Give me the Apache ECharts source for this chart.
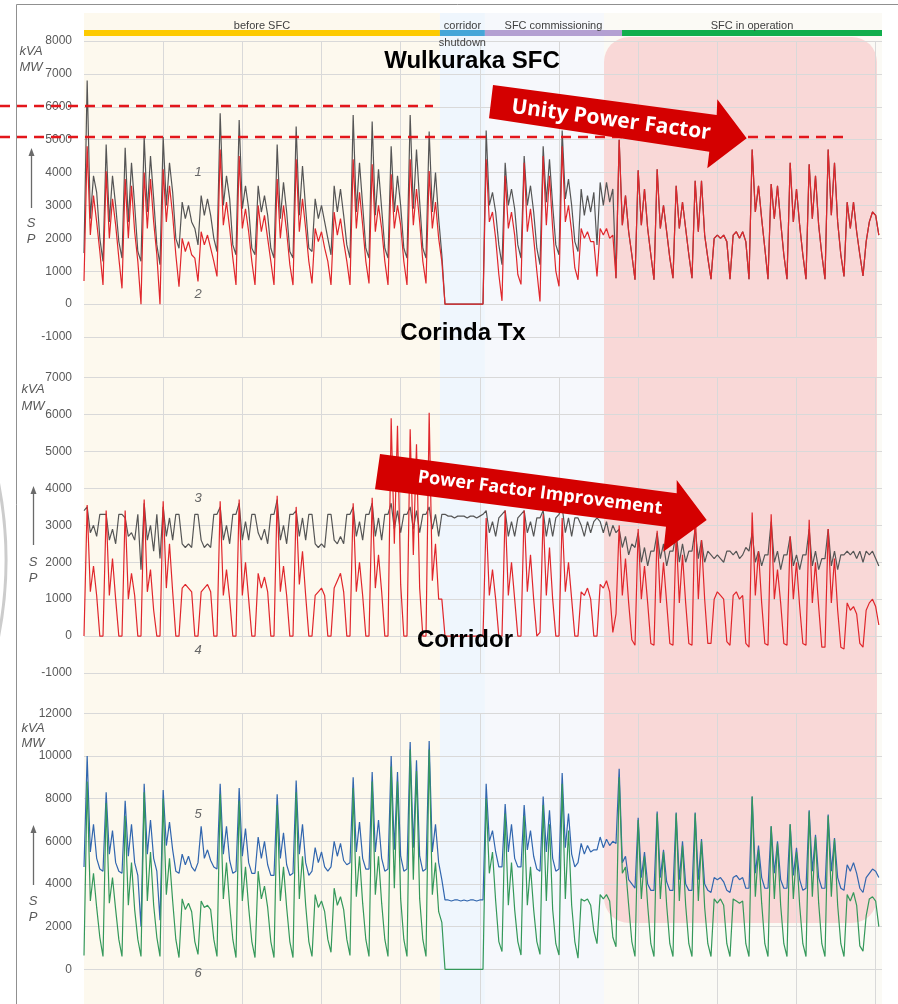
<!DOCTYPE html>
<html><head><meta charset="utf-8">
<script src="https://cdn.jsdelivr.net/npm/echarts@6/dist/echarts.min.js"></script>
<style>html,body{margin:0;padding:0;background:#fff}#c{width:898px;height:1004px}</style>
</head><body><div id="c"></div>
<script>
// ---- data: 42 daily cycles x 6 samples (index 0..251) ----
// Panel 1: Wulkuraka SFC  (S = kVA, grey ; P = MW, red)
const sfcP = [
 700,4800,2100,3300,2500,1600,  580,4040,2000,3200,2400,1400,  480,3800,2000,3600,2200,1300,
 0,4000,2300,3800,2500,1500,    0,4100,2500,3600,2700,1500,    530,2000,1600,1900,1500,1400,
 690,2200,1800,2100,1700,1300,  840,4700,2400,3100,2300,1400,  580,4500,2300,2900,2200,1300,
 580,3000,2200,2700,2000,1300,  580,3800,2000,3000,2200,1200,  580,4400,2200,3200,2300,1300,
 630,2300,1900,2200,1700,1300,  580,2800,2100,2600,1900,1300,  580,4400,2300,3400,2400,1300,
 630,4250,2200,3000,2300,1300,  580,3950,2300,3000,2400,1300,  580,4400,2400,3500,2500,1300,
 630,4050,2300,3100,2000,1300,  0,0,0,0,0,0,                   0,0,0,0,0,0,
 0,4400,2500,2800,2000,900,     100,3900,2300,2800,2100,900,   600,4300,2200,2900,2000,1000,
 80,4500,2400,3900,2300,1000,   540,4800,2500,3000,2200,1100,  740,2300,2000,2200,1900,1900,
 840,2300,2100,2300,2000,2100,  790,5000,2400,3300,2200,1500,  740,4070,2400,3500,2300,1500,
 740,4100,2300,3000,2200,1400,  790,3600,2300,3100,2300,1500,  790,3750,2200,3750,2100,1400,
 760,2000,2100,2000,2100,1900,  760,2100,2200,2000,2200,1900,  760,4700,2800,3600,2600,1700,
 760,3650,2600,3600,2500,1500,  760,4300,2500,3500,2400,1500,  760,4250,2600,3900,2400,1500,
 760,4700,2700,4300,2500,1500,  840,3100,2300,3100,2200,1500,  860,1900,2500,2800,2700,2100
];
// S before unity power factor (cycles 0..27); afterwards S equals P
const sfcSBefore = [
 1550,6800,2600,3900,3400,2000, 1300,4850,2500,3900,3000,1900, 1400,4750,2500,4300,3000,1600,
 1300,5100,2800,4500,3200,1800, 1200,5080,3000,4300,3400,2000, 1700,3100,2600,3000,2500,2300,
 1800,3300,2700,3200,2700,2000, 1600,5800,3000,3900,3200,1800, 1500,5600,2900,3600,2900,1700,
 1500,3600,2800,3300,2700,1700, 1400,4850,2600,3700,2800,1600, 1400,5400,2700,4200,2900,1700,
 1600,3200,2600,3000,2500,2000, 1500,3600,2800,3500,2700,1800, 1400,5750,2800,4300,3000,1700,
 1400,5550,2700,4100,2900,1700, 1400,4800,2800,3900,3000,1700, 1400,5750,2900,4700,3100,1700,
 1400,5250,2800,4000,2600,1500, 0,0,0,0,0,0,                   0,0,0,0,0,0,
 0,5280,3000,3400,2800,1800,    1200,4300,3000,3500,2900,1800, 1400,4500,3000,3600,2800,1700,
 1200,4800,3100,4400,3000,1800, 1500,5280,3200,3800,3000,1900, 1600,3500,2700,3300,2800,3400,
 1800,3700,3000,3700,3100,3500
];
const sfcS = sfcSBefore.concat(sfcP.slice(sfcSBefore.length));

// Panel 2: Corinda Tx
const txS = [
 3400,3500,2800,3000,2700,3300, 3300,3300,2600,2900,2500,3300, 3300,3200,2700,2800,2600,3300,
 1800,3600,2600,3000,2300,3300, 2100,3500,2700,3200,2600,3300, 3300,2500,2400,2500,2400,3300,
 3300,2600,2400,2500,2400,3300, 3300,3500,2600,3000,2500,3300, 3300,3600,2600,3100,2600,3300,
 3300,2800,2600,2900,2500,3300, 3300,3700,2600,3000,2500,3300, 3300,3400,2700,3200,2600,3300,
 3300,2500,2400,2500,2400,3300, 3300,2600,2500,2700,2500,3300, 3300,3500,2700,3100,2600,3300,
 3300,3600,2700,3200,2600,3300, 3300,3600,2900,3400,2800,3300, 3300,3500,2900,3400,2800,3300,
 3300,3500,2900,3300,2700,3300, 3300,3250,3250,3200,3250,3250, 3250,3200,3250,3250,3200,3250,
 3300,3400,2800,3100,2700,3200, 3300,3400,2700,3100,2700,3200, 3300,3400,2800,3100,2700,3200,
 3200,3400,2700,3200,2700,3200, 3300,3500,2800,3200,2700,3200, 3200,3000,2700,3100,2800,3100,
 3200,3100,2800,3100,2700,3000, 2800,2900,2400,2700,2200,2500, 2400,2800,2000,2400,1900,2300,
 2300,2800,2100,2500,1900,2300, 2300,2800,2000,2500,2000,2300, 2300,2900,2100,2600,2000,2300,
 2200,2100,2200,2100,2000,2300, 2300,2200,2300,2100,2200,2400, 2300,2800,2000,2300,1900,2200,
 2200,3100,2000,2300,1800,2200, 2200,2700,1900,2200,1800,2200, 2200,2900,1900,2300,1800,2100,
 2100,2900,1900,2300,1800,2200, 2200,2300,2200,2300,2100,2300, 2000,2300,2200,2300,2100,1900
];
const txP = [
 0,3550,1200,1900,1100,0,  0,3400,1100,2100,1000,0,  0,3400,1000,1700,1100,0,
 0,3700,1200,1800,700,0,   0,3650,1300,2500,1200,0,  0,1300,1400,1300,1200,0,
 0,1200,1300,1400,1200,0,  0,3650,1100,1800,1000,0,  0,3700,1100,2000,1000,0,
 0,1700,1300,1600,1200,0,  0,3800,1200,1900,1100,0,  0,3500,1400,2300,1100,0,
 0,1100,1200,1300,1100,0,  0,1300,1500,1700,1200,0,  0,3600,1200,2000,1100,0,
 0,3750,1300,2200,1200,0,  0,5900,2500,5700,1400,0,  0,5600,2200,5200,1300,0,
 0,6050,1500,2500,1000,1000, 0,0,0,0,0,0,            0,0,0,0,0,0,
 0,3200,1100,1800,1000,0,  0,3400,1100,2000,1000,0,  0,3400,1200,2200,1000,0,
 100,3300,1100,2400,1000,0, 0,3200,1200,2000,1000,0, 0,1200,1100,1300,1000,0,
 0,1400,1300,1500,1200,100, 600,3000,1100,2100,900,-100, -250,2900,1000,1900,900,-200,
 -250,2850,900,2000,900,-200, -250,2800,900,2200,900,-200, -250,3500,1000,2600,1000,-200,
 -200,1000,1200,1100,1000,-150, -250,1100,1200,1000,1100,-200, -300,3350,1100,2300,900,-200,
 -250,3300,1000,1800,900,-200, -250,2700,1000,2000,800,-200, -250,3150,900,2000,800,-300,
 -300,2900,900,2100,700,-300, -350,900,700,800,600,-200, -300,700,900,1000,800,300
];

// Panel 3: Corridor (S blue, P green)
const corS = [
 4800,10000,5500,6800,5200,4700, 4600,8300,5400,6500,5000,4600, 4500,7900,5300,6800,5000,4400,
 2000,8700,5400,7000,5200,4600,  2300,8400,5800,6900,5600,4600, 4500,5400,4900,5300,4800,4600,
 5000,6700,5200,5600,5100,4800,  4700,8700,5400,6700,5100,4500, 4600,8500,5300,6600,5000,4500,
 4500,6200,5200,6000,4900,4400,  4400,8200,5200,6400,4900,4400, 4500,8850,5400,6800,5000,4400,
 4600,5700,5000,5500,4800,4600,  4800,6000,5300,5900,5100,4900, 5000,9000,5500,6900,5200,4700,
 4700,9250,5500,7000,5200,4600,  4700,10000,5600,9250,5300,4600, 4700,10650,5700,9800,5300,4600,
 4700,10700,5500,6800,5000,4200, 3250,3250,3200,3250,3250,3200, 3250,3200,3250,3250,3200,3250,
 3250,8700,6000,6500,5500,4800,  4800,7750,5500,6800,5200,4800, 4800,7700,5600,6500,5300,4700,
 4600,8100,5500,7450,5200,4600,  4700,9200,5700,7300,5400,4800, 5000,5900,5400,5800,5500,5600,
 5600,6200,5700,6100,5800,6000,  5900,9400,5000,5300,4200,4000, 3800,7100,4300,5500,4000,3700,
 3700,7400,4300,5600,4100,3700,  3700,7350,4200,6000,4000,3700, 3700,7350,4200,6100,4000,3700,
 3600,4300,4200,4300,4100,3700,  3600,4300,4400,4200,4300,3800, 3800,8100,4500,5800,4300,3800,
 3800,6700,4500,6000,4200,3800,  3800,6800,4400,5700,4200,3700, 3800,7450,4600,6300,4300,3800,
 3800,7250,4600,6150,4300,3800,  3700,4900,4600,5000,4500,3800, 3600,4300,4500,4700,4600,4300
];
const corP = [
 650,8800,3200,4500,2900,1500,  600,7800,3100,4300,2800,1400,  600,7200,3000,5000,2800,1400,
 600,8300,3200,5500,3000,1500,  600,8000,3500,5200,3200,1400,  550,3300,2800,3100,2700,1300,
 700,3200,2900,3000,2800,1400,  600,8200,3300,5000,3000,1400,  550,7900,3200,4800,2900,1300,
 550,4600,3300,3900,2900,1300,  550,7700,3200,4800,2900,1300,  550,8300,3300,5300,3000,1300,
 600,3500,2900,3200,2700,1400,  800,3800,3000,3400,2800,1400,  650,8500,3400,5300,3100,1400,
 600,8800,3500,5300,3100,1400,  600,9500,3800,8800,3300,1400,  600,10300,4200,9300,3300,1400,
 600,10300,3500,5000,2700,2200, 0,0,0,0,0,0,                   0,0,0,0,0,0,
 0,8000,4500,5500,3200,1300,    830,7300,3000,5000,2800,1300,  670,7200,3000,4800,2800,1300,
 700,7700,3200,6800,2800,1200,  670,8700,3300,6500,3000,1300,  520,3300,3200,3300,3000,1800,
 1200,3500,3300,3500,3200,1500, 1060,9000,4500,4800,3000,1300, 600,7000,3300,5300,3000,1200,
 600,7300,3300,5500,3000,1200,  600,7300,3200,5800,3000,1200,  600,7300,3200,6000,2900,1200,
 600,3300,3100,3300,3000,1200,  600,3300,3200,3100,3200,1200,  600,8100,3400,5600,3100,1200,
 600,6700,3300,5900,3000,1200,  600,6800,3300,5500,3000,1200,  600,7400,3400,6200,3100,1200,
 600,7200,3400,6100,3000,1200,  600,3500,3200,3600,3000,1100,  850,2500,3300,3400,3200,2000
];

// axes
const xMax = 252, xStep = 25;
const yRanges = [[-1000, 8000, 1000], [-1000, 7000, 1000], [0, 12000, 2000]];

// phases (index units)
const phaseNames = ['before SFC', 'corridor\nshutdown', 'SFC commissioning', 'SFC in operation'];
const phaseStart = [0, 112.4, 126.6, 169.9];
const phaseEnd   = [112.4, 126.6, 169.9, 252];
const phaseColors = ['#fdca00', '#45a6d8', '#b3a0d2', '#11ae4d'];
const bandStart = [0, 112.4, 126.6, 164.2];
const bandEnd   = [112.4, 126.6, 164.2, 252];
const bandColors = ['#fdf9ee', '#eff6fd', '#f6f8fc', '#fbfaf5'];

// ---- chart ----
const chart = echarts.init(document.getElementById('c'));
const pairs = a => a.map((v, i) => [i, v]);
const FONT = '"Liberation Sans", Arial, sans-serif';
const grids = [
  {left: 84, right: 16, top: 41, height: 296},
  {left: 84, right: 16, top: 377.7, height: 295.3},
  {left: 84, right: 16, top: 713.3, height: 256},
  {left: 84, right: 16, top: 713.3, height: 290.7}  // vertical grid lines of bottom panel run to the page edge
];
const VGRID = {show: true, showMinLine: false, showMaxLine: false, lineStyle: {color: '#d9d9d9', width: 1}};
const xAxes = grids.map((g, i) => ({
  type: 'value', gridIndex: i, min: 0, max: xMax, interval: xStep,
  axisLine: {show: false}, axisTick: {show: false}, axisLabel: {show: false},
  splitLine: i === 2 ? {show: false} : VGRID
}));
const yAxes = grids.map((g, i) => {
  if (i === 3) return {type: 'value', gridIndex: i, min: 0, max: 1, show: false, splitLine: {show: false}};
  const r = yRanges[i];
  return {
    type: 'value', gridIndex: i, min: r[0], max: r[1], interval: r[2],
    axisLine: {show: false}, axisTick: {show: false},
    axisLabel: {color: '#595959', fontSize: 12, fontFamily: FONT, margin: 12, formatter: v => String(v)},
    splitLine: {lineStyle: {color: '#d9d9d9', width: 1}}
  };
});
function line(data, grid, color, z) {
  return {type: 'line', xAxisIndex: grid, yAxisIndex: grid, data: pairs(data), symbol: 'none',
    lineStyle: {color: color, width: 1.2}, z: z, silent: true, animation: false};
}
const series = [
  line(sfcS, 0, '#555555', 3), line(sfcP, 0, '#e0262b', 4),
  line(txS, 1, '#555555', 3), line(txP, 1, '#e0262b', 4),
  line(corS, 2, '#3166ae', 3), line(corP, 2, '#34985a', 4)
];
chart.setOption({animation: false, backgroundColor: '#ffffff', grid: grids, xAxis: xAxes, yAxis: yAxes, series: series});

// ---- annotations ----
const px = v => chart.convertToPixel({xAxisIndex: 0}, v);
const G = [];
// background bands (behind grid lines)
bandStart.forEach((s, i) => {
  const a = px(s), b = px(bandEnd[i]);
  G.push({type: 'rect', shape: {x: a, y: 13, width: b - a, height: 991}, style: {fill: bandColors[i]}, z: -20, silent: true});
});
// pink operation area
G.push({type: 'rect', shape: {x: 604, y: 37, width: 273, height: 886, r: 25}, style: {fill: '#f9d8d7'}, z: -19, silent: true});
// frame
G.push({type: 'line', shape: {x1: 16.5, y1: 4.5, x2: 898, y2: 4.5}, style: {stroke: '#909090', lineWidth: 1}, z: 50});
G.push({type: 'line', shape: {x1: 16.5, y1: 4.5, x2: 16.5, y2: 1004}, style: {stroke: '#909090', lineWidth: 1}, z: 50});
G.push({type: 'arc', shape: {cx: -394, cy: 560, r: 400, startAngle: -0.2, endAngle: 0.2}, style: {stroke: '#cccccc', lineWidth: 3, fill: null}, z: 50});
// phase bar + labels
phaseNames.forEach((n, i) => {
  const a = px(phaseStart[i]), b = px(phaseEnd[i]);
  G.push({type: 'rect', shape: {x: a, y: 30, width: b - a, height: 6}, style: {fill: phaseColors[i]}, z: 40});
  G.push({type: 'text', x: (a + b) / 2, y: 17.5, style: {text: n, textAlign: 'center', textVerticalAlign: 'top',
    font: '11px ' + FONT, fill: '#404040', lineHeight: 17}, z: 41});
});
// panel titles
[['Wulkuraka SFC', 472, 61], ['Corinda Tx', 463, 333], ['Corridor', 465, 640]].forEach(t => {
  G.push({type: 'text', x: t[1], y: t[2], style: {text: t[0], textAlign: 'center', textVerticalAlign: 'middle',
    font: 'bold 24px ' + FONT, fill: '#000'}, z: 60});
});
// dashed reference lines
G.push({type: 'line', shape: {x1: 0, y1: 106, x2: 433, y2: 106}, style: {stroke: '#e3161b', lineWidth: 2.5, lineDash: [10, 7]}, z: 60});
G.push({type: 'line', shape: {x1: 0, y1: 137, x2: 845, y2: 137}, style: {stroke: '#e3161b', lineWidth: 2.5, lineDash: [10, 7]}, z: 60});
// arrows
G.push({type: 'polygon', shape: {points: [[493, 85], [716.7, 115], [717.3, 99.3], [746.7, 138.3], [707.3, 168.3], [709.3, 151.7], [489, 118.3]]},
  style: {fill: '#d40000'}, z: 70});
G.push({type: 'text', x: 611, y: 120, rotation: -0.1326, style: {text: 'Unity Power Factor', textAlign: 'center', textVerticalAlign: 'middle',
  font: 'bold 21px "Open Sans", sans-serif', fill: '#ffffff'}, z: 71});
G.push({type: 'polygon', shape: {points: [[380, 454], [676.7, 493.3], [676.7, 480], [706.7, 520], [663.3, 551.7], [666, 526.7], [375, 489.3]]},
  style: {fill: '#d40000'}, z: 70});
G.push({type: 'text', x: 540, y: 493, rotation: -0.1297, style: {text: 'Power Factor Improvement', textAlign: 'center', textVerticalAlign: 'middle',
  font: 'bold 18px "Open Sans", sans-serif', fill: '#ffffff'}, z: 71});
// axis unit labels and S/P arrows
const unitPos = [[31, 51, 67, 148, 208, 223, 239], [33, 389, 406, 486, 545, 562, 578], [33, 728, 743, 825, 885, 901, 917]];
unitPos.forEach(u => {
  const it = 'italic 13px ' + FONT;
  G.push({type: 'text', x: u[0], y: u[1], style: {text: 'kVA', textAlign: 'center', textVerticalAlign: 'middle', font: it, fill: '#595959'}, z: 60});
  G.push({type: 'text', x: u[0], y: u[2], style: {text: 'MW', textAlign: 'center', textVerticalAlign: 'middle', font: it, fill: '#595959'}, z: 60});
  G.push({type: 'line', shape: {x1: u[0] + 0.5, y1: u[3] + 6, x2: u[0] + 0.5, y2: u[4]}, style: {stroke: '#6a6a6a', lineWidth: 1.3}, z: 60});
  G.push({type: 'polygon', shape: {points: [[u[0] + 0.5, u[3]], [u[0] - 2.5, u[3] + 8], [u[0] + 3.5, u[3] + 8]]}, style: {fill: '#6a6a6a'}, z: 60});
  G.push({type: 'text', x: u[0], y: u[5], style: {text: 'S', textAlign: 'center', textVerticalAlign: 'middle', font: it, fill: '#595959'}, z: 60});
  G.push({type: 'text', x: u[0], y: u[6], style: {text: 'P', textAlign: 'center', textVerticalAlign: 'middle', font: it, fill: '#595959'}, z: 60});
});
// series numbers
[['1', 172], ['2', 294], ['3', 498], ['4', 650], ['5', 814], ['6', 973]].forEach(n => {
  G.push({type: 'text', x: 198, y: n[1], style: {text: n[0], textAlign: 'center', textVerticalAlign: 'middle',
    font: 'italic 13px ' + FONT, fill: '#666666'}, z: 60});
});
chart.setOption({graphic: {elements: G}});
</script>
</body></html>
